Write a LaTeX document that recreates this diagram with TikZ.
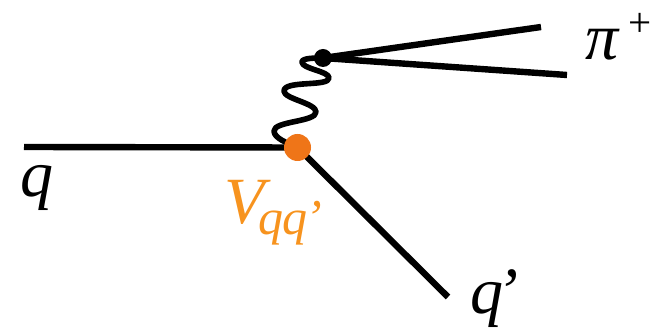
\documentclass[tikz,border=0pt]{standalone}
\usepackage{fontspec}
\setmainfont{Liberation Serif}
\definecolor{vertexorange}{HTML}{EF7518}
\definecolor{labelorange}{HTML}{F7931E}
\tikzset{
  leg/.style={draw=black,line width=6.4pt},
  wig/.style={draw=black,line width=5.6pt,line cap=round,line join=round},
  lab/.style={inner sep=0pt,anchor=base west,font=\fontsize{66}{66}\selectfont\itshape}
}
\begin{document}
\begin{tikzpicture}[x=1pt,y=-1pt]
\useasboundingbox (0,0) rectangle (651,328);
\coordinate (qstart) at (24,147);
\coordinate (qpend) at (448,297);
\coordinate (piA) at (541,27);
\coordinate (piB) at (567,75);
\coordinate (V) at (297.5,147.5);
\coordinate (P) at (323,58);
\draw[leg] (qstart) -- (V);
\draw[leg] (V) -- (qpend);
\draw[leg] (P) -- (piA);
\draw[leg] (P) -- (piB);
\draw[wig] (V) .. controls (287,143) and (274,138) .. (274,131)
  .. controls (274,121) and (316,122) .. (316,112)
  .. controls (316,103) and (284,99) .. (284,91)
  .. controls (284,80) and (329,87) .. (329,78)
  .. controls (329,71) and (302,69) .. (302,62)
  .. controls (302,58) and (315,58) .. (P);
\node[circle,fill=black,minimum size=18pt,inner sep=0pt] (pv) at (P) {};
\node[circle,fill=vertexorange,minimum size=27pt,inner sep=0pt] (vv) at (V) {};
\node[lab] (q) at (20,197) {q};
\node[lab] (qp) at (470,314) {q\kern-7pt’};
\node[lab] (pi) at (585,60) {π};
\node[inner sep=0pt,anchor=base west,font=\fontsize{41}{41}\selectfont] (plus) at (628,37) {+};
\node[lab,text=labelorange] (vl) at (224,224) {V\kern-6pt\raisebox{-11pt}{\fontsize{50}{50}\selectfont q\kern-1pt q\kern-2pt’}};
\end{tikzpicture}
\end{document}
